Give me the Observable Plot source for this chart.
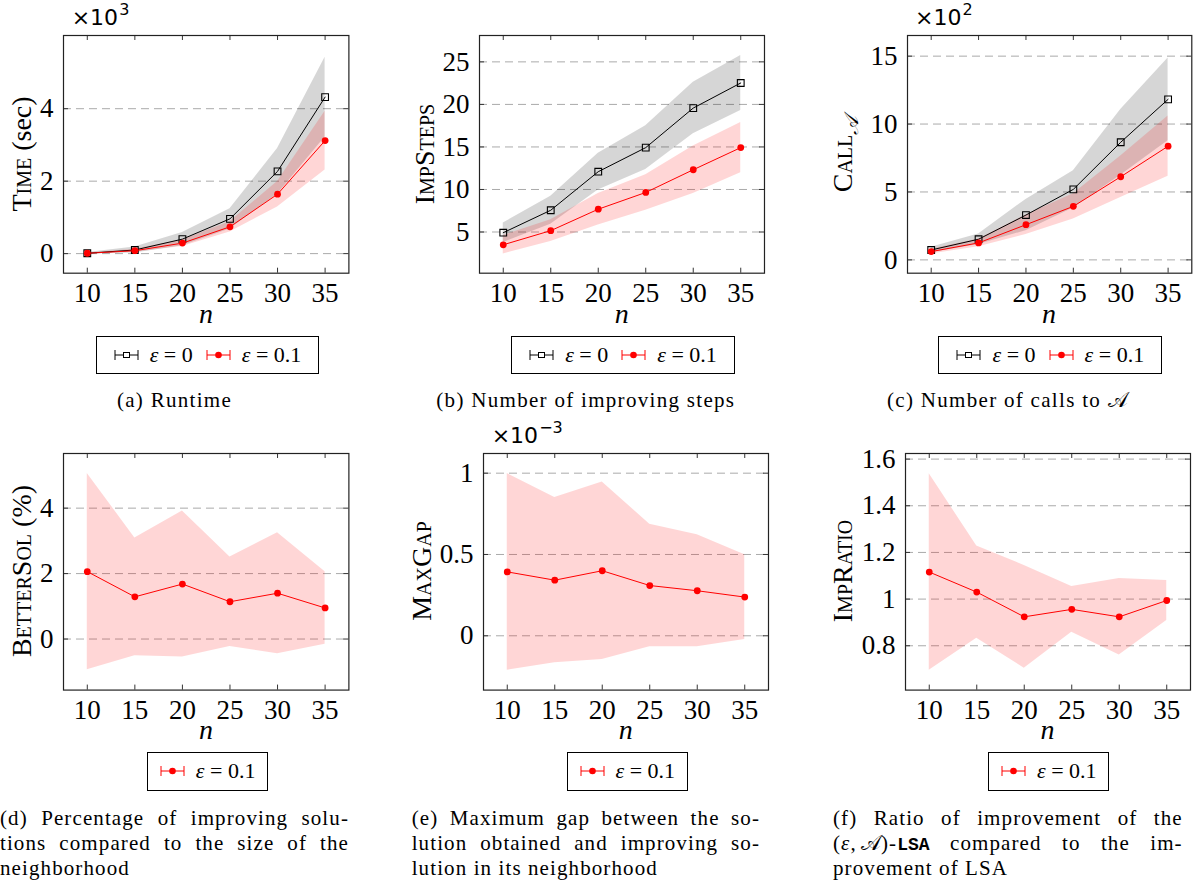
<!DOCTYPE html>
<html><head><meta charset="utf-8">
<script src="https://cdn.jsdelivr.net/npm/d3@7"></script>
<script src="https://cdn.jsdelivr.net/npm/@observablehq/plot@0.6"></script>
<style>
body{margin:0;background:#fff;}
#fig{position:relative;width:1204px;height:881px;font-family:"Liberation Serif",serif;color:#000;overflow:hidden;background:#fff}
#fig svg.plot{position:absolute;overflow:visible}
#fig svg.plot text{font-family:"Liberation Serif",serif}
.ylab{position:absolute;white-space:nowrap;font-size:28px;line-height:1;transform:translate(-50%,-50%) rotate(-90deg)}
.sc{font-variant:small-caps}
.xlab{position:absolute;font-style:italic;font-size:28px;line-height:1;transform:translateX(-50%)}
.mult{position:absolute;font-family:"DejaVu Sans",sans-serif;font-size:22px;line-height:22px;height:22px;white-space:nowrap}
.mult .sup{position:absolute;top:-5px;left:100%;margin-left:1px;font-size:16px;line-height:16px}
.legend{position:absolute;border:1.3px solid #000;box-sizing:border-box;display:flex;align-items:center;justify-content:center;font-size:22px;background:#fff;white-space:nowrap}
.legend svg{margin-right:11px}
.legend .gap{display:inline-block;width:13px}
.cap{position:absolute;font-size:21px;letter-spacing:1.3px;line-height:24px;white-space:nowrap;transform:translateX(-50%)}
.capl{position:absolute;font-size:21px;letter-spacing:1.1px;line-height:24px;text-align:justify;text-align-last:justify;white-space:nowrap}
.capl.last{text-align-last:left}
.tt{font-family:"Liberation Mono",monospace;font-weight:bold;font-size:18px;letter-spacing:0}
</style>
</head><body><div id="fig"></div>
<script>
// x categories (problem size n)
const ns = [10, 15, 20, 25, 30, 35];

// (a) Runtime, ×10^3 sec
const timeEps0   = [0.01, 0.10, 0.40, 0.96, 2.27, 4.32];
const timeEps0Sd = [0.02, 0.08, 0.18, 0.28, 0.63, 1.10];
const timeEps01   = [0.01, 0.08, 0.29, 0.74, 1.64, 3.12];
const timeEps01Sd = [0.01, 0.04, 0.09, 0.14, 0.35, 0.81];

// (b) Number of improving steps
const stepsEps0   = [4.92, 7.56, 12.09, 14.92, 19.57, 22.52];
const stepsEps0Sd = [1.14, 1.65, 2.16, 2.56, 3.03, 3.23];
const stepsEps01   = [3.50, 5.16, 7.68, 9.65, 12.32, 14.92];
const stepsEps01Sd = [1.08, 1.28, 1.85, 2.08, 2.78, 2.94];

// (c) Number of calls to A, ×10^2
const callsEps0   = [0.73, 1.52, 3.30, 5.19, 8.66, 11.82];
const callsEps0Sd = [0.20, 0.39, 1.15, 1.37, 2.42, 3.04];
const callsEps01   = [0.61, 1.25, 2.59, 3.94, 6.12, 8.37];
const callsEps01Sd = [0.17, 0.29, 0.72, 0.93, 1.52, 2.22];

// (d) BetterSol (%)
const betterSol   = [2.06, 1.29, 1.68, 1.14, 1.40, 0.95];
const betterSolSd = [3.00, 1.80, 2.23, 1.37, 1.85, 1.11];

// (e) MaxGap, ×10^-3
const maxGap   = [0.393, 0.342, 0.400, 0.309, 0.277, 0.238];
const maxGapSd = [0.605, 0.508, 0.546, 0.377, 0.345, 0.261];

// (f) ImpRatio
const impRatio   = [1.116, 1.030, 0.924, 0.956, 0.924, 0.994];
const impRatioSd = [0.421, 0.198, 0.220, 0.098, 0.164, 0.086];

// tick labels
const xTicks = ns;
const yTicksA = [0, 2, 4];
const yTicksB = [5, 10, 15, 20, 25];
const yTicksC = [0, 5, 10, 15];
const yTicksD = [0, 2, 4];
const yTicksE = [0, 0.5, 1];
const yTicksF = [0.8, 1, 1.2, 1.4, 1.6];

const rowsOf = (m, sd) => ns.map((n, i) => ({n, m: m[i], lo: m[i] - sd[i], hi: m[i] + sd[i]}));

const fig = document.getElementById("fig");

function panel({frame, yDomain, yTicks, series}) {
  const [x0, y0, x1, y1] = frame;
  const mL = 70, mR = 14, mT = 14, mB = 44;
  const fw = x1 - x0, fh = y1 - y0;
  const marks = [
    Plot.ruleY(yTicks, {stroke: "#aaaaaa", strokeWidth: 1, strokeDasharray: "8,5"})
  ];
  for (const s of series) {
    const rows = rowsOf(s.m, s.sd);
    const col = s.kind === "black" ? "black" : "red";
    marks.push(Plot.areaY(rows, {x: "n", y1: "lo", y2: "hi", fill: col, fillOpacity: 0.16}));
  }
  for (const s of series) {
    const rows = rowsOf(s.m, s.sd);
    if (s.kind === "black") {
      marks.push(Plot.line(rows, {x: "n", y: "m", stroke: "black", strokeWidth: 1}));
      marks.push(Plot.dot(rows, {x: "n", y: "m", symbol: "square", r: 3.8, stroke: "black", fill: "none", strokeWidth: 1.1}));
    } else {
      marks.push(Plot.line(rows, {x: "n", y: "m", stroke: "red", strokeWidth: 1}));
      marks.push(Plot.dot(rows, {x: "n", y: "m", r: 3.4, fill: "red", stroke: "none"}));
    }
  }
  marks.push(
    Plot.ruleX(xTicks, {x: d => d, insetTop: fh - 5, stroke: "#333", strokeWidth: 1}),
    Plot.ruleX(xTicks, {x: d => d, insetBottom: fh - 5, stroke: "#333", strokeWidth: 1}),
    Plot.ruleY(yTicks, {y: d => d, insetRight: fw - 5, stroke: "#333", strokeWidth: 1}),
    Plot.ruleY(yTicks, {y: d => d, insetLeft: fw - 5, stroke: "#333", strokeWidth: 1}),
    Plot.frame({stroke: "#222", strokeWidth: 1.2}),
    Plot.axisX(xTicks, {tickSize: 0, tickPadding: 10, label: null, tickFormat: d => `${d}`}),
    Plot.axisY(yTicks, {tickSize: 0, tickPadding: 10, label: null, tickFormat: d => `${d}`})
  );
  const svg = Plot.plot({
    width: fw + mL + mR, height: fh + mT + mB,
    marginLeft: mL, marginRight: mR, marginTop: mT, marginBottom: mB,
    x: {domain: [7.5, 37.5]},
    y: {domain: yDomain},
    style: {fontSize: "27px", fontFamily: "'Liberation Serif', serif", background: "transparent", color: "black"},
    marks
  });
  svg.classList.add("plot");
  svg.style.left = (x0 - mL) + "px";
  svg.style.top = (y0 - mT) + "px";
  fig.appendChild(svg);
}

const top0 = 35, top1 = 272.7, bot0 = 452.7, bot1 = 689.3;
panel({frame: [63.3, top0, 348.7, top1], yDomain: [-0.54, 6.02], yTicks: yTicksA,
  series: [{m: timeEps0, sd: timeEps0Sd, kind: "black"}, {m: timeEps01, sd: timeEps01Sd, kind: "red"}]});
panel({frame: [479.3, top0, 764.3, top1], yDomain: [0.16, 28.1], yTicks: yTicksB,
  series: [{m: stepsEps0, sd: stepsEps0Sd, kind: "black"}, {m: stepsEps01, sd: stepsEps01Sd, kind: "red"}]});
panel({frame: [906.7, top0, 1191, top1], yDomain: [-0.98, 16.52], yTicks: yTicksC,
  series: [{m: callsEps0, sd: callsEps0Sd, kind: "black"}, {m: callsEps01, sd: callsEps01Sd, kind: "red"}]});
panel({frame: [63.3, bot0, 348.7, bot1], yDomain: [-1.56, 5.67], yTicks: yTicksD,
  series: [{m: betterSol, sd: betterSolSd, kind: "red"}]});
panel({frame: [483.3, bot0, 768.3, bot1], yDomain: [-0.334, 1.121], yTicks: yTicksE,
  series: [{m: maxGap, sd: maxGapSd, kind: "red"}]});
panel({frame: [905, bot0, 1190, bot1], yDomain: [0.61, 1.624], yTicks: yTicksF,
  series: [{m: impRatio, sd: impRatioSd, kind: "red"}]});

function add(html) { fig.insertAdjacentHTML("beforeend", html); }

// y-axis labels
add(`<div class="ylab" style="left:21.7px;top:153.8px"><span class="sc">Time</span> (sec)</div>`);
add(`<div class="ylab" style="left:425px;top:153.8px"><span class="sc">ImpSteps</span></div>`);
add(`<div class="ylab" style="left:843px;top:153.8px"><span class="sc">Call</span><span style="font-size:0.7em;position:relative;top:0.3em;font-style:italic">𝒜</span></div>`);
add(`<div class="ylab" style="left:21.7px;top:571px"><span class="sc">BetterSol</span> (%)</div>`);
add(`<div class="ylab" style="left:421.7px;top:571px"><span class="sc">MaxGap</span></div>`);
add(`<div class="ylab" style="left:843.3px;top:571px"><span class="sc">ImpRatio</span></div>`);

// x-axis labels "n"
for (const [cx, cy] of [[206, 300], [621.8, 300], [1048.9, 300], [206, 716], [625.8, 716], [1047.5, 716]]) {
  add(`<div class="xlab" style="left:${cx}px;top:${cy}px">n</div>`);
}

// multipliers (baseline of the "10" sits ~25px / ~443px)
add(`<div class="mult" style="left:71.7px;top:7px">×10<span class="sup">3</span></div>`);
add(`<div class="mult" style="left:915px;top:7px">×10<span class="sup">2</span></div>`);
add(`<div class="mult" style="left:491.7px;top:425px">×10<span class="sup">−3</span></div>`);

// legends
const glyph = kind => kind === "black"
  ? `<svg width="25" height="12"><line x1="1" y1="6" x2="24" y2="6" stroke="black" stroke-width="1"/><line x1="1" y1="1" x2="1" y2="11" stroke="black"/><line x1="24" y1="1" x2="24" y2="11" stroke="black"/><rect x="9.5" y="3.5" width="6" height="5" fill="white" stroke="black" stroke-width="1"/></svg>`
  : `<svg width="25" height="12"><line x1="1" y1="6" x2="24" y2="6" stroke="red" stroke-width="1"/><line x1="1" y1="1" x2="1" y2="11" stroke="red"/><line x1="24" y1="1" x2="24" y2="11" stroke="red"/><circle cx="12.5" cy="6" r="3.3" fill="red"/></svg>`;
const eps0 = `<span><i>ε</i> = 0</span>`;
const eps01 = `<span><i>ε</i> = 0.1</span>`;
const leg2 = `${glyph("black")}${eps0}<span class="gap"></span>${glyph("red")}${eps01}`;
const leg1 = `${glyph("red")}${eps01}`;
add(`<div class="legend" style="left:95.7px;top:336px;width:223.6px;height:38px">${leg2}</div>`);
add(`<div class="legend" style="left:511px;top:336px;width:224px;height:38px">${leg2}</div>`);
add(`<div class="legend" style="left:938.3px;top:336px;width:224px;height:38px">${leg2}</div>`);
add(`<div class="legend" style="left:147px;top:752.3px;width:121.3px;height:38.4px">${leg1}</div>`);
add(`<div class="legend" style="left:566.7px;top:752.3px;width:121.3px;height:38.4px">${leg1}</div>`);
add(`<div class="legend" style="left:988.3px;top:752.3px;width:121px;height:38.4px">${leg1}</div>`);

// captions, top row
add(`<div class="cap" style="left:174.5px;top:388px">(a) Runtime</div>`);
add(`<div class="cap" style="left:585.8px;top:388px">(b) Number of improving steps</div>`);
add(`<div class="cap" style="left:1008px;top:388px">(c) Number of calls to 𝒜</div>`);

// captions, bottom row (justified lines)
function capLines(left, right, lines) {
  lines.forEach((t, i) => {
    const last = i === lines.length - 1;
    add(`<div class="capl${last ? " last" : ""}" style="left:${left}px;width:${right - left}px;top:${806 + i * 25}px">${t}</div>`);
  });
}
capLines(0, 349, ["(d) Percentage of improving solu-", "tions compared to the size of the", "neighborhood"]);
capLines(411.7, 760, ["(e) Maximum gap between the so-", "lution obtained and improving so-", "lution in its neighborhood"]);
capLines(833, 1182.7, ["(f) Ratio of improvement of the", "(<i>ε</i>,&#8239;𝒜)-<span class=\"tt\">LSA</span> compared to the im-", "provement of LSA"]);
</script>
</body></html>
